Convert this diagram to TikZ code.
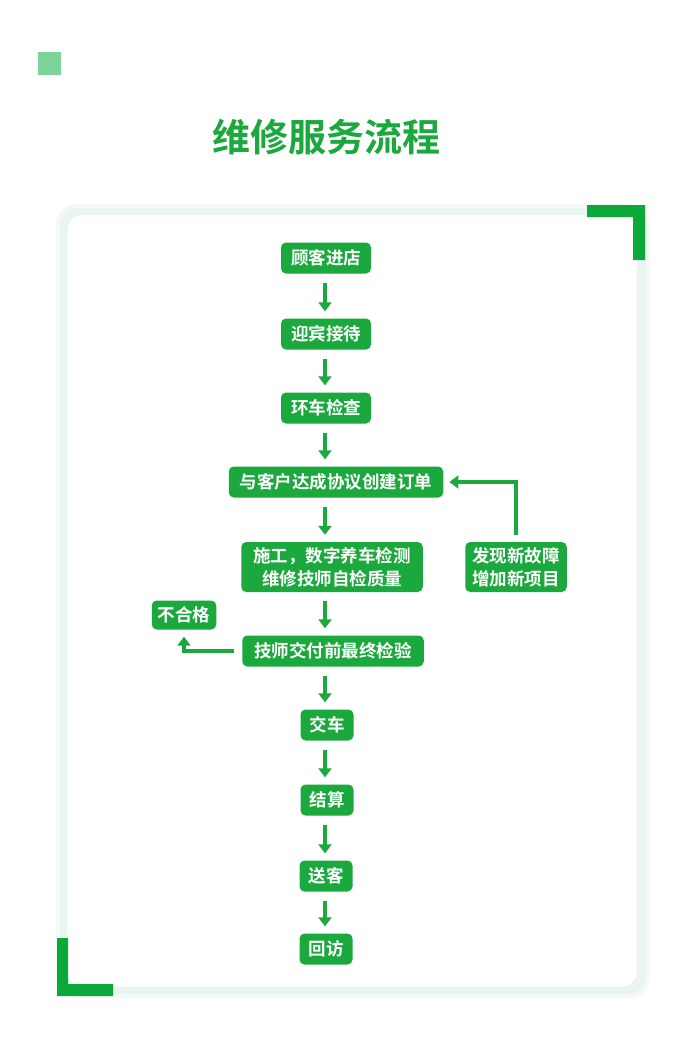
\documentclass[tikz,border=0pt]{standalone}
\usepackage{fontspec}
\setmainfont{Noto Sans CJK SC}[BoldFont={Noto Sans CJK SC Bold}]
\usetikzlibrary{arrows.meta}

\definecolor{flowgreen}{HTML}{1BA83D}
\definecolor{cornergreen}{HTML}{0BA83A}
\definecolor{lightgreen}{HTML}{7DD49A}
\definecolor{mint}{HTML}{E8F3EE}
\definecolor{mintline}{HTML}{DCEEE4}

\tikzset{
  stepbox/.style={fill=flowgreen, text=white, rounded corners=5pt,
    font=\bfseries\fontsize{17.5}{23}\selectfont, align=center,
    inner xsep=10pt, inner ysep=3pt, minimum height=31pt},
  flow/.style={draw=flowgreen, line width=4.5pt,
    -{Triangle[width=13pt,length=9pt]}, shorten <=9pt, shorten >=7pt}
}

\begin{document}
\begin{tikzpicture}[x=1pt,y=-1pt]
\useasboundingbox (0,0) rectangle (700,1050);

\fill[lightgreen] (38,52) rectangle (61,75);
\node[text=flowgreen, font=\bfseries\fontsize{38}{42}\selectfont] (title) at (326,137) {维修服务流程};

\begin{scope}
\fill[mint!50, rounded corners=20pt] (56,204) rectangle (650,998);
\fill[mint!85, rounded corners=18pt] (60,208) rectangle (646,994);
\filldraw[fill=white, draw=mintline, rounded corners=14pt] (67,215) rectangle (637,987);
\end{scope}

\begin{scope}[cornergreen]
\fill (587,205) -- (645,205) -- (645,260) -- (633,260) -- (633,217) -- (587,217) -- cycle;
\fill (57,938) -- (68,938) -- (68,984) -- (113,984) -- (113,996) -- (57,996) -- cycle;
\end{scope}

\coordinate (col) at (325,0);

\node[stepbox] (n1) at (326,258) {顾客进店};
\node[stepbox] (n2) at (326,334) {迎宾接待};
\node[stepbox] (n3) at (326,408) {环车检查};
\node[stepbox, inner xsep=11pt] (n4) at (336,482) {与客户达成协议创建订单};
\node[stepbox, inner xsep=12pt, minimum height=50pt] (n5) at (332,567) {施工，数字养车检测\\维修技师自检质量};
\node[stepbox, inner xsep=7pt, minimum height=50pt] (n6) at (516,567) {发现新故障\\增加新项目};
\node[stepbox, inner xsep=12pt] (n7) at (333,651) {技师交付前最终检验};
\node[stepbox, inner xsep=6pt, minimum height=29pt] (n8) at (184,615) {不合格};
\node[stepbox, inner xsep=9pt] (n9) at (327,725) {交车};
\node[stepbox, inner xsep=9pt] (n10) at (327,800) {结算};
\node[stepbox, inner xsep=9pt] (n11) at (326,876) {送客};
\node[stepbox, inner xsep=9pt] (n12) at (326,949) {回访};

\foreach \a/\b in {n1/n2,n2/n3,n3/n4,n4/n5,n5/n7,n7/n9,n9/n10,n10/n11,n11/n12}
  \draw[flow] (\a.south -| col) -- (\b.north -| col);

\draw[flow, shorten <=7pt, shorten >=6pt] (n6.north) |- (n4.east);
\draw[flow, shorten <=8pt, shorten >=7pt] (n7.west) -| (n8.south);
\end{tikzpicture}
\end{document}
